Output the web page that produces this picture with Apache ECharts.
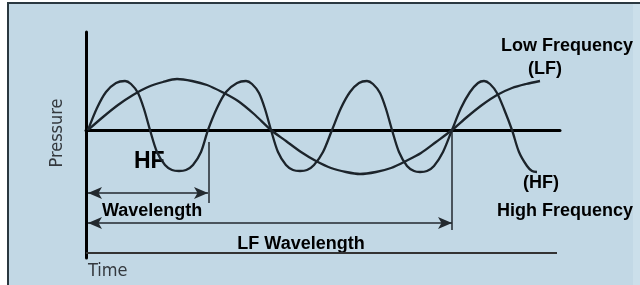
<!DOCTYPE html>
<html>
<head>
<meta charset="utf-8">
<script src="https://cdn.jsdelivr.net/npm/echarts@6/dist/echarts.min.js"></script>
<style>
  html, body { margin: 0; padding: 0; background: #fff; }
  #chartContainer { width: 640px; height: 285px; }
</style>
</head>
<body>
<div id="chartContainer"></div>
<script>
'use strict';
// time runs along the x axis, pressure up the y axis (arbitrary units)
let hfTime = [
    2, 11, 20, 30, 39, 45, 52, 58, 64, 71, 79, 86, 93, 100, 107, 115,
    122, 131, 140, 151, 160, 166, 173, 179, 185, 192, 200, 207, 214, 221, 228, 237,
    246, 255, 264, 273, 281, 287, 294, 300, 306, 313, 321, 328, 334, 341, 348, 357,
    366, 375, 384, 392, 398, 404, 411, 418, 426, 433, 441, 446, 451
];
let hfPressure = [
    0, 22, 38, 47, 49, 46, 37, 21, 0, -22, -35, -40, -41, -40, -35, -22,
    0, 22, 38, 47, 49, 46, 37, 21, 0, -22, -35, -40, -41, -40, -35, -22,
    0, 22, 38, 47, 49, 46, 37, 21, 0, -22, -36, -41, -42, -41, -36, -22,
    0, 22, 38, 47, 49, 46, 37, 21, 0, -22, -36, -41, -42
];
let lfTime = [2, 17, 32, 47, 62, 77, 91, 106, 121, 136, 152, 168, 185,
    200, 215, 230, 245, 260, 274, 290, 305, 320, 335, 350, 366,
    381, 396, 411, 426, 440, 454];
let lfPressure = [0, 13, 25, 35, 43, 48, 51, 49, 45, 38, 29, 16, 0,
    -11, -22, -31, -38, -42, -44, -42, -38, -31, -23, -12, 0,
    13, 25, 35, 42, 46, 49];

let pairs = (xs, ys) => xs.map((x, i) => [x, ys[i]]);

let initChart = (function() {
    let chartContainer = document.getElementById('chartContainer');
    let demoChart = echarts.init(chartContainer);

    let ink = '#1c242b';
    let boldFont = 'bold 18px "Liberation Sans", Arial, sans-serif';
    let plainFont = '18px "DejaVu Sans Condensed", "DejaVu Sans", sans-serif';

    let option = {
        animation: false,
        backgroundColor: '#C2D8E5',
        grid: {
            left: 86,
            right: 80,
            top: 32,
            bottom: 27
        },
        xAxis: {
            type: 'value',
            min: 0,
            max: 474,
            axisLine: {
                onZero: true,
                lineStyle: { color: '#000', width: 3 }
            },
            axisTick: { show: false },
            axisLabel: { show: false },
            splitLine: { show: false }
        },
        yAxis: {
            type: 'value',
            min: -128,
            max: 98,
            axisLine: {
                show: true,
                lineStyle: { color: '#000', width: 3 }
            },
            axisTick: { show: false },
            axisLabel: { show: false },
            splitLine: { show: false }
        },
        series: [{
            name: 'HF',
            type: 'line',
            data: pairs(hfTime, hfPressure),
            smooth: 0.3,
            showSymbol: false,
            lineStyle: { color: ink, width: 2.3 }
        }, {
            name: 'LF',
            type: 'line',
            data: pairs(lfTime, lfPressure),
            smooth: 0.3,
            showSymbol: false,
            lineStyle: { color: ink, width: 2.3 },
            markLine: {
                silent: true,
                label: { show: false },
                lineStyle: { color: '#22292e', width: 1.5, type: 'solid' },
                symbolSize: [9, 14],
                data: [
                    [{ coord: [2, -63], symbol: 'arrow' }, { coord: [122, -63], symbol: 'arrow' }],
                    [{ coord: [123, -12], symbol: 'none' }, { coord: [123, -73], symbol: 'none' }],
                    [{ coord: [2, -93], symbol: 'arrow' }, { coord: [366, -93], symbol: 'arrow' }],
                    [{ coord: [366, 0], symbol: 'none' }, { coord: [366, -100], symbol: 'none' }],
                    [{ coord: [0, -123], symbol: 'none', lineStyle: { width: 2, color: '#333' } },
                     { coord: [471, -123], symbol: 'none' }]
                ]
            }
        }],
        graphic: [
            { type: 'rect', shape: { x: 0, y: 0, width: 640, height: 2 }, style: { fill: '#fff' } },
            { type: 'rect', shape: { x: 0, y: 0, width: 7, height: 285 }, style: { fill: '#fff' } },
            { type: 'rect', shape: { x: 633, y: 4, width: 7, height: 281 }, style: { fill: '#CBDFEA' } },
            { type: 'rect', shape: { x: 7, y: 2, width: 633, height: 2 }, style: { fill: '#2a3840' } },
            { type: 'rect', shape: { x: 7, y: 2, width: 2, height: 283 }, style: { fill: '#2a3840' } },
            {
                type: 'text', x: 57, y: 133, rotation: Math.PI / 2,
                style: { text: 'Pressure', x: 0, y: 0, font: plainFont, fill: '#34393e',
                    textAlign: 'center', textVerticalAlign: 'middle' }
            },
            {
                type: 'text',
                style: { text: 'Time', x: 88, y: 271, font: plainFont, fill: '#34393e',
                    textAlign: 'left', textVerticalAlign: 'middle' }
            },
            {
                type: 'text',
                style: { text: 'HF', x: 134, y: 162, font: 'bold 23px "Liberation Sans", Arial, sans-serif',
                    fill: '#000', textAlign: 'left', textVerticalAlign: 'middle' }
            },
            {
                type: 'text',
                style: { text: 'Wavelength', x: 102, y: 211, font: boldFont, fill: '#000',
                    textAlign: 'left', textVerticalAlign: 'middle' }
            },
            {
                type: 'text',
                style: { text: 'LF Wavelength', x: 301, y: 244, font: boldFont, fill: '#000',
                    textAlign: 'center', textVerticalAlign: 'middle' }
            },
            {
                type: 'text',
                style: { text: 'Low Frequency', x: 633, y: 46, font: boldFont, fill: '#000',
                    textAlign: 'right', textVerticalAlign: 'middle' }
            },
            {
                type: 'text',
                style: { text: '(LF)', x: 545, y: 69, font: boldFont, fill: '#000',
                    textAlign: 'center', textVerticalAlign: 'middle' }
            },
            {
                type: 'text',
                style: { text: '(HF)', x: 541, y: 183, font: boldFont, fill: '#000',
                    textAlign: 'center', textVerticalAlign: 'middle' }
            },
            {
                type: 'text',
                style: { text: 'High Frequency', x: 633, y: 211, font: boldFont, fill: '#000',
                    textAlign: 'right', textVerticalAlign: 'middle' }
            }
        ]
    };

    demoChart.setOption(option);
})();
</script>
</body>
</html>
